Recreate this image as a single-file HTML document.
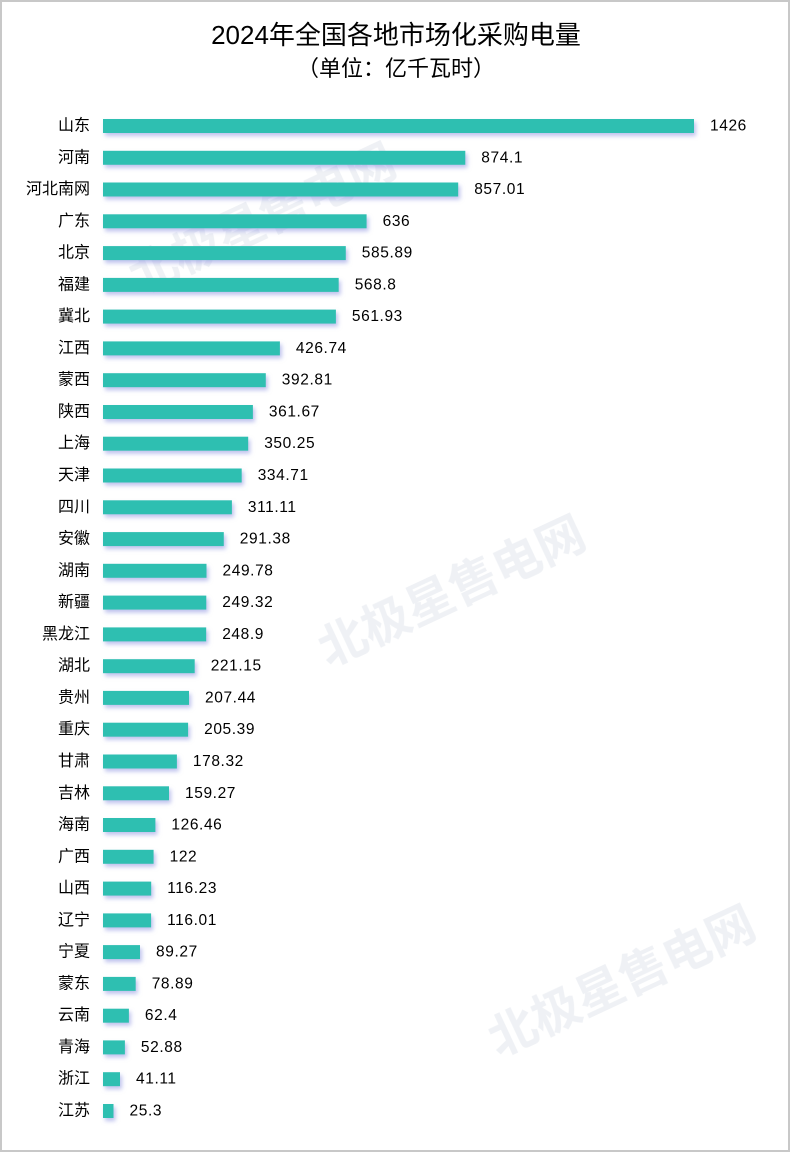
<!DOCTYPE html>
<html><head><meta charset="utf-8"><style>
html,body{margin:0;padding:0;background:#fff}
svg{display:block}
text{font-family:"Liberation Sans","Noto Sans CJK SC",sans-serif}
</style></head><body>
<svg width="792" height="1153" viewBox="0 0 792 1153" xmlns="http://www.w3.org/2000/svg">
<defs><filter id="sh" x="-5%" y="-50%" width="110%" height="250%"><feDropShadow dx="2" dy="3" stdDeviation="2" flood-color="#8890e0" flood-opacity="0.55"/></filter></defs>
<rect x="1" y="1" width="788" height="1150" fill="#fff" stroke="#c8c8c8" stroke-width="2"/>
<g fill="#e4e8ee" font-weight="bold" opacity="0.6">
<text x="120" y="250" font-size="48" transform="rotate(-25 230 230)">北极星售电网</text>
<text x="300" y="620" font-size="48" transform="rotate(-25 420 580)">北极星售电网</text>
<text x="470" y="1010" font-size="48" transform="rotate(-25 590 970)">北极星售电网</text>
</g>
<text x="396" y="44" font-size="26" text-anchor="middle" fill="#000">2024年全国各地市场化采购电量</text>
<text x="396" y="76" font-size="22" text-anchor="middle" fill="#000">（单位：亿千瓦时）</text>
<g fill="#2fbfb1" filter="url(#sh)">
<rect x="103" y="119" width="591" height="14"/>
<rect x="103" y="150.8" width="362.3" height="14"/>
<rect x="103" y="182.5" width="355.2" height="14"/>
<rect x="103" y="214.3" width="263.6" height="14"/>
<rect x="103" y="246.1" width="242.8" height="14"/>
<rect x="103" y="277.9" width="235.7" height="14"/>
<rect x="103" y="309.6" width="232.9" height="14"/>
<rect x="103" y="341.4" width="176.9" height="14"/>
<rect x="103" y="373.2" width="162.8" height="14"/>
<rect x="103" y="405" width="149.9" height="14"/>
<rect x="103" y="436.7" width="145.2" height="14"/>
<rect x="103" y="468.5" width="138.7" height="14"/>
<rect x="103" y="500.3" width="128.9" height="14"/>
<rect x="103" y="532.1" width="120.8" height="14"/>
<rect x="103" y="563.8" width="103.5" height="14"/>
<rect x="103" y="595.6" width="103.3" height="14"/>
<rect x="103" y="627.4" width="103.2" height="14"/>
<rect x="103" y="659.2" width="91.7" height="14"/>
<rect x="103" y="690.9" width="86" height="14"/>
<rect x="103" y="722.7" width="85.1" height="14"/>
<rect x="103" y="754.5" width="73.9" height="14"/>
<rect x="103" y="786.3" width="66" height="14"/>
<rect x="103" y="818" width="52.4" height="14"/>
<rect x="103" y="849.8" width="50.6" height="14"/>
<rect x="103" y="881.6" width="48.2" height="14"/>
<rect x="103" y="913.4" width="48.1" height="14"/>
<rect x="103" y="945.1" width="37" height="14"/>
<rect x="103" y="976.9" width="32.7" height="14"/>
<rect x="103" y="1008.7" width="25.9" height="14"/>
<rect x="103" y="1040.4" width="21.9" height="14"/>
<rect x="103" y="1072.2" width="17" height="14"/>
<rect x="103" y="1104" width="10.5" height="14"/>
</g>
<g font-size="16" text-anchor="end" fill="#000" dominant-baseline="central">
<text x="90" y="126">山东</text><text x="90" y="157.8">河南</text><text x="90" y="189.5">河北南网</text><text x="90" y="221.3">广东</text><text x="90" y="253.1">北京</text><text x="90" y="284.9">福建</text><text x="90" y="316.6">冀北</text><text x="90" y="348.4">江西</text><text x="90" y="380.2">蒙西</text><text x="90" y="412">陕西</text><text x="90" y="443.7">上海</text><text x="90" y="475.5">天津</text><text x="90" y="507.3">四川</text><text x="90" y="539.1">安徽</text><text x="90" y="570.8">湖南</text><text x="90" y="602.6">新疆</text><text x="90" y="634.4">黑龙江</text><text x="90" y="666.2">湖北</text><text x="90" y="697.9">贵州</text><text x="90" y="729.7">重庆</text><text x="90" y="761.5">甘肃</text><text x="90" y="793.3">吉林</text><text x="90" y="825">海南</text><text x="90" y="856.8">广西</text><text x="90" y="888.6">山西</text><text x="90" y="920.4">辽宁</text><text x="90" y="952.1">宁夏</text><text x="90" y="983.9">蒙东</text><text x="90" y="1015.7">云南</text><text x="90" y="1047.4">青海</text><text x="90" y="1079.2">浙江</text><text x="90" y="1111">江苏</text>
</g>
<g font-size="15.5" fill="#000" dominant-baseline="central" letter-spacing="0.6">
<text x="710" y="126">1426</text><text x="481.3" y="157.8">874.1</text><text x="474.2" y="189.5">857.01</text><text x="382.6" y="221.3">636</text><text x="361.8" y="253.1">585.89</text><text x="354.7" y="284.9">568.8</text><text x="351.9" y="316.6">561.93</text><text x="295.9" y="348.4">426.74</text><text x="281.8" y="380.2">392.81</text><text x="268.9" y="412">361.67</text><text x="264.2" y="443.7">350.25</text><text x="257.7" y="475.5">334.71</text><text x="247.9" y="507.3">311.11</text><text x="239.8" y="539.1">291.38</text><text x="222.5" y="570.8">249.78</text><text x="222.3" y="602.6">249.32</text><text x="222.2" y="634.4">248.9</text><text x="210.7" y="666.2">221.15</text><text x="205" y="697.9">207.44</text><text x="204.1" y="729.7">205.39</text><text x="192.9" y="761.5">178.32</text><text x="185" y="793.3">159.27</text><text x="171.4" y="825">126.46</text><text x="169.6" y="856.8">122</text><text x="167.2" y="888.6">116.23</text><text x="167.1" y="920.4">116.01</text><text x="156" y="952.1">89.27</text><text x="151.7" y="983.9">78.89</text><text x="144.9" y="1015.7">62.4</text><text x="140.9" y="1047.4">52.88</text><text x="136" y="1079.2">41.11</text><text x="129.5" y="1111">25.3</text>
</g>
</svg>
</body></html>
